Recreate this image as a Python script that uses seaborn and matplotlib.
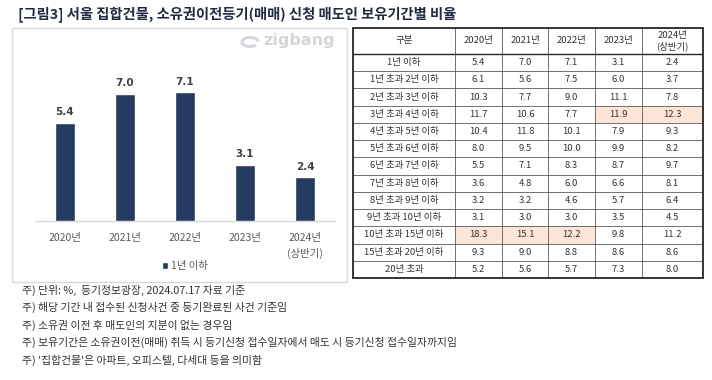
import numpy as np
import pandas as pd
import seaborn as sns
import matplotlib.pyplot as plt
from matplotlib.patches import Rectangle, Patch, Arc

sns.set_theme(style='white')
plt.rcParams['font.family'] = ['Noto Sans CJK KR', 'DejaVu Sans']

# 데이터
years = ['2020년', '2021년', '2022년', '2023년', '2024년\n(상반기)']
col_headers = ['2020년', '2021년', '2022년', '2023년', '2024년\n(상반기)']
periods = ['1년 이하', '1년 초과 2년 이하', '2년 초과 3년 이하', '3년 초과 4년 이하',
           '4년 초과 5년 이하', '5년 초과 6년 이하', '6년 초과 7년 이하', '7년 초과 8년 이하',
           '8년 초과 9년 이하', '9년 초과 10년 이하', '10년 초과 15년 이하',
           '15년 초과 20년 이하', '20년 초과']
v2020 = [5.4, 6.1, 10.3, 11.7, 10.4, 8.0, 5.5, 3.6, 3.2, 3.1, 18.3, 9.3, 5.2]
v2021 = [7.0, 5.6, 7.7, 10.6, 11.8, 9.5, 7.1, 4.8, 3.2, 3.0, 15.1, 9.0, 5.6]
v2022 = [7.1, 7.5, 9.0, 7.7, 10.1, 10.0, 8.3, 6.0, 4.6, 3.0, 12.2, 8.8, 5.7]
v2023 = [3.1, 6.0, 11.1, 11.9, 7.9, 9.9, 8.7, 6.6, 5.7, 3.5, 9.8, 8.6, 7.3]
v2024 = [2.4, 3.7, 7.8, 12.3, 9.3, 8.2, 9.7, 8.1, 6.4, 4.5, 11.2, 8.6, 8.0]
# 강조 셀 (행, 열)
highlight = [(3, 3), (3, 4), (10, 0), (10, 1), (10, 2)]
notes = ['주) 단위: %,  등기정보광장, 2024.07.17 자료 기준',
         '주) 해당 기간 내 접수된 신청사건 중 등기완료된 사건 기준임',
         '주) 소유권 이전 후 매도인의 지분이 없는 경우임',
         '주) 보유기간은 소유권이전(매매) 취득 시 등기신청 접수일자에서 매도 시 등기신청 접수일자까지임',
         "주) '집합건물'은 아파트, 오피스텔, 다세대 등을 의미함"]

table = pd.DataFrame({'2020': v2020, '2021': v2021, '2022': v2022,
                      '2023': v2023, '2024': v2024}, index=periods)
bar_df = pd.DataFrame({'year': years, 'value': table.iloc[0].values})

W, H = 712, 380
fig = plt.figure(figsize=(W / 100, H / 100), dpi=100)
fig.patch.set_facecolor('white')

def fx(px):
    return px / W

def fy(py):
    return 1 - py / H

navy = '#253B61'

# 제목
fig.text(fx(18), fy(14), '[그림3] 서울 집합건물, 소유권이전등기(매매) 신청 매도인 보유기간별 비율',
         fontsize=10.3, fontweight='bold', color='#1f2a44', va='center', ha='left')

# 왼쪽 패널 테두리
fig.add_artist(Rectangle((fx(12), fy(282)), fx(335), 254 / H, transform=fig.transFigure,
                         facecolor='white', edgecolor='#d9d9d9', lw=1.0, zorder=0))

# 막대 그래프
ax = fig.add_axes([fx(35), fy(221), fx(300), (221 - 39.5) / H])
sns.barplot(data=bar_df, x='year', y='value', color=navy, width=0.32, ax=ax,
            saturation=1, zorder=3)
ax.set_xlim(-0.5, 4.5)
ax.set_ylim(0, 10)
ax.set_facecolor('none')
ax.bar_label(ax.containers[0], fmt='%.1f', padding=4, fontsize=7.5,
             fontweight='bold', color='#404040', family='DejaVu Sans')
for s in ['top', 'right', 'left']:
    ax.spines[s].set_visible(False)
ax.spines['bottom'].set_color('#d9d9d9')
ax.spines['bottom'].set_linewidth(1.0)
ax.set_yticks([])
ax.set_xlabel('')
ax.set_ylabel('')
ax.tick_params(axis='x', length=0, pad=9, labelsize=7.5, labelcolor='#595959')
for lab in ax.get_xticklabels():
    lab.set_linespacing(1.5)

fig.legend(handles=[Patch(facecolor=navy, label='1년 이하')], loc='center',
           bbox_to_anchor=(fx(185), fy(266)), frameon=False, fontsize=7.5,
           handlelength=0.6, handleheight=0.6, handletextpad=0.3,
           labelcolor='#595959')

# zigbang 로고
fig.text(fx(263), fy(41), 'zigbang', fontsize=11.5, fontweight='bold',
         color='#d3d6da', va='center', ha='left', family='DejaVu Sans')
fig.add_artist(Arc((fx(250), fy(42)), fx(16), 9 / H, angle=-15, theta1=20, theta2=330,
                   transform=fig.transFigure, color='#d3d6da', lw=2.2))

# 표
col_edges = [0, 102, 149, 195, 242, 289, 350]
row_edges = [0, 26] + [26 + 17.23 * (i + 1) for i in range(len(periods))]
tx0, ty0 = 353, 28
tw, th = col_edges[-1], row_edges[-1]
tax = fig.add_axes([fx(tx0), fy(ty0 + th), fx(tw), th / H])
tax.set_xlim(0, tw)
tax.set_ylim(th, 0)
tax.axis('off')

for (r, c) in highlight:
    tax.add_patch(Rectangle((col_edges[c + 1], row_edges[r + 1]),
                            col_edges[c + 2] - col_edges[c + 1],
                            row_edges[r + 2] - row_edges[r + 1],
                            facecolor='#FCE4D6', edgecolor='none', zorder=1))

txt_kw = dict(fontsize=6.8, color='#333333', ha='center', va='center', zorder=3)
tax.text((col_edges[0] + col_edges[1]) / 2, row_edges[1] / 2, '구분', **txt_kw)
for j, h in enumerate(col_headers):
    tax.text((col_edges[j + 1] + col_edges[j + 2]) / 2, row_edges[1] / 2, h,
             linespacing=1.2, **txt_kw)
for i, p in enumerate(table.index):
    yc = (row_edges[i + 1] + row_edges[i + 2]) / 2
    tax.text((col_edges[0] + col_edges[1]) / 2, yc, p, **txt_kw)
    for j, col in enumerate(table.columns):
        tax.text((col_edges[j + 1] + col_edges[j + 2]) / 2, yc,
                 f'{table.loc[p, col]:.1f}', **txt_kw)

for y in row_edges[2:-1]:
    tax.plot([0, tw], [y, y], color='#595959', lw=0.6, zorder=2)
tax.plot([0, tw], [row_edges[1], row_edges[1]], color='#262626', lw=1.0, zorder=2)
for x in col_edges[1:-1]:
    tax.plot([x, x], [0, th], color='#595959', lw=0.6, zorder=2)
tax.add_patch(Rectangle((0, 0), tw, th, facecolor='none', edgecolor='#262626',
                        lw=1.3, zorder=4, clip_on=False))

# 주석
for k, n in enumerate(notes):
    fig.text(fx(22), fy(290 + 17.5 * k), n, fontsize=7.8, color='#333333',
             va='center', ha='left')

fig.savefig('out.png', dpi=100, facecolor='white')
